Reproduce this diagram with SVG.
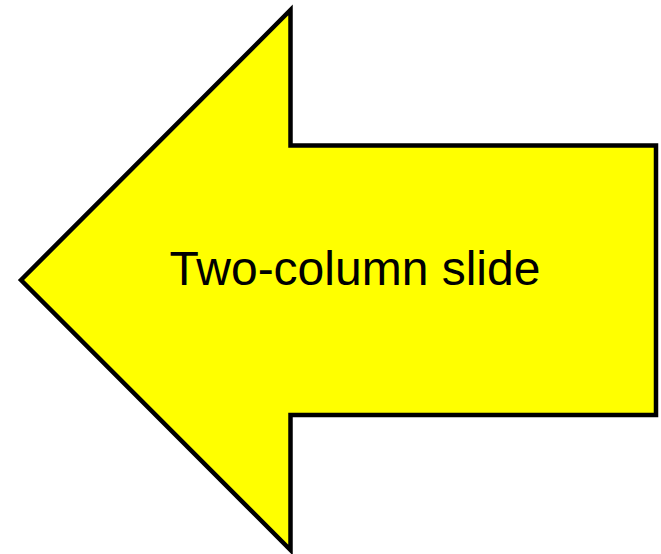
<svg xmlns="http://www.w3.org/2000/svg" width="661" height="554" viewBox="0 0 661 554">
<style>
.shape{fill:#ffff00;stroke:#000000;stroke-width:4.5;stroke-linejoin:miter;stroke-miterlimit:10}
.label{font-family:"Liberation Sans",Arial,sans-serif;font-size:48px;fill:#000000;text-anchor:middle}
</style>
<rect width="661" height="554" fill="#ffffff"/>
<g id="arrow">
<polygon class="shape" points="21,280 290.5,10 290.5,145.5 656,145.5 656,415 290.5,415 290.5,550"/>
<text class="label" x="355" y="285">Two-column slide</text>
</g>
</svg>
